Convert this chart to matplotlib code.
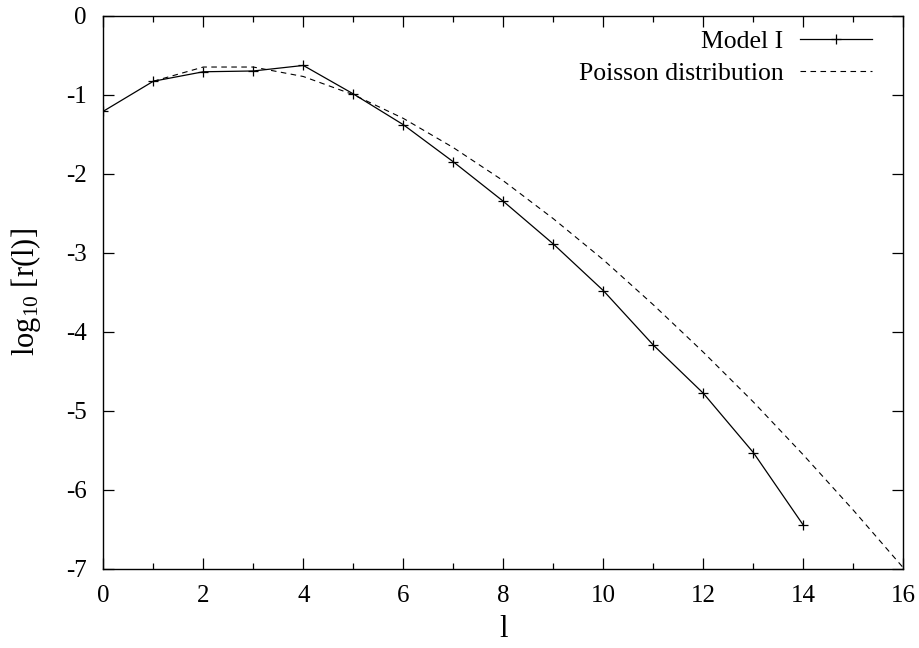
import matplotlib
matplotlib.use("Agg")
import matplotlib.pyplot as plt
from matplotlib.ticker import MultipleLocator

plt.rcParams['font.family'] = ['Liberation Serif', 'DejaVu Serif']
plt.rcParams['mathtext.fontset'] = 'custom'
plt.rcParams['mathtext.rm'] = 'Liberation Serif'
plt.rcParams['mathtext.it'] = 'Liberation Serif:italic'

# Model I
model_l = [0, 1, 2, 3, 4, 5, 6, 7, 8, 9, 10, 11, 12, 13, 14]
model_logr = [-1.21, -0.83, -0.71, -0.70, -0.63, -0.99, -1.38, -1.85,
              -2.35, -2.89, -3.48, -4.17, -4.78, -5.53, -6.45]

# Poisson distribution
pois_l = [1, 2, 3, 4, 5, 6, 7, 8, 9, 10, 11, 12, 13, 14, 15, 16]
pois_logr = [-0.83, -0.65, -0.65, -0.77, -1.00, -1.30, -1.67, -2.09,
             -2.57, -3.09, -3.66, -4.26, -4.89, -5.56, -6.26, -6.99]

xticks = [0, 2, 4, 6, 8, 10, 12, 14, 16]
yticks = [0, -1, -2, -3, -4, -5, -6, -7]

fig = plt.figure(figsize=(9.19, 6.48), dpi=100)
ax = fig.add_axes([0.1124, 0.1224, 0.8706, 0.8534])

ax.plot(model_l, model_logr, color='black', lw=0.9, marker='+',
        markersize=7, markeredgewidth=0.9, label='Model I')
ax.plot(pois_l, pois_logr, color='black', lw=0.8, dashes=(5, 4),
        label='Poisson distribution')

ax.set_xlim(0, 16)
ax.set_ylim(-7, 0)
ax.set_xticks(xticks)
ax.set_yticks(yticks)
ax.set_yticklabels([str(v) for v in yticks])
ax.xaxis.set_minor_locator(MultipleLocator(1))

ax.tick_params(which='both', direction='in', top=True, right=True,
               labelsize=18, width=0.9)
ax.tick_params(which='major', length=8)
ax.tick_params(which='minor', length=4)
ax.tick_params(axis='x', pad=12)
ax.tick_params(axis='y', pad=12)
for s in ax.spines.values():
    s.set_linewidth(1.0)

ax.set_xlabel('l', fontsize=22, va='baseline')
ax.xaxis.set_label_coords(0.5, -0.124)
ax.set_ylabel('log$_{10}$ [r(l)]', fontsize=22, va='center')
ax.yaxis.set_label_coords(-0.097, 0.5)

ax.legend(loc='upper right', bbox_to_anchor=(0.974, 0.992), frameon=False,
          markerfirst=False, fontsize=18.5, handlelength=2.8,
          handletextpad=0.66, labelspacing=0.33, borderaxespad=0)

fig.savefig('out.png', dpi=100)
